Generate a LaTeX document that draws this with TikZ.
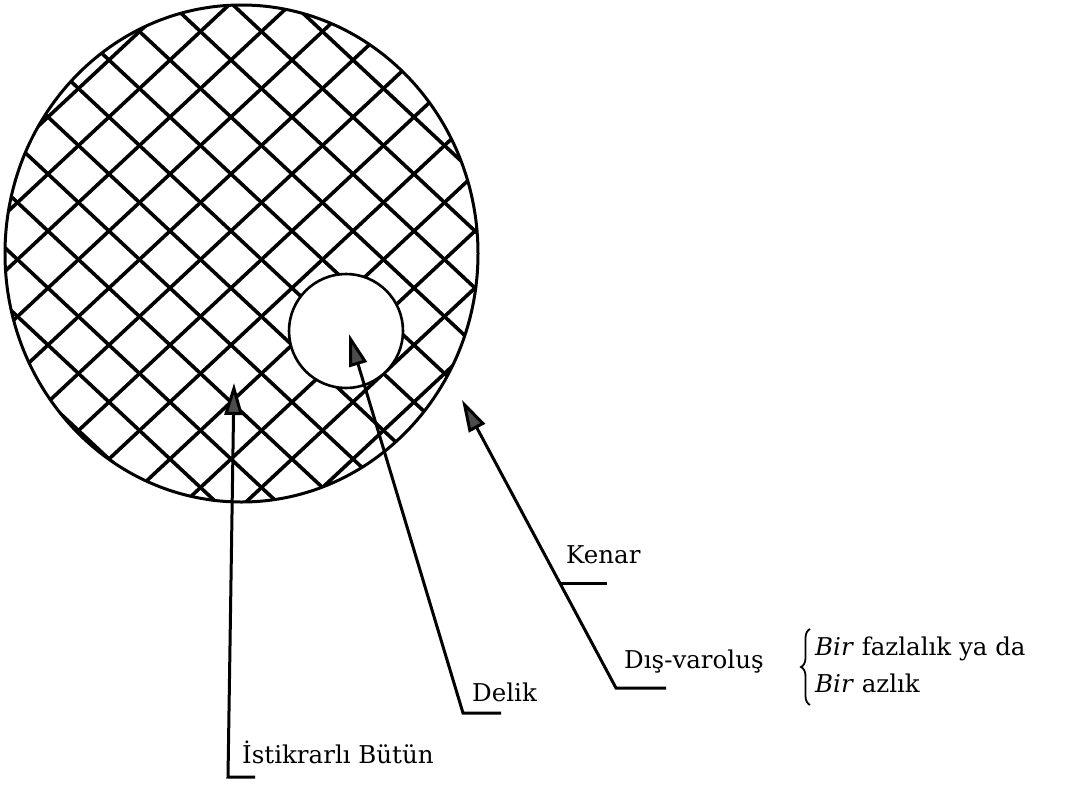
\documentclass[tikz,border=0pt]{standalone}
\usepackage{fontspec}
\setmainfont{DejaVu Serif}
\usetikzlibrary{arrows.meta,decorations.pathreplacing}
\begin{document}
\begin{tikzpicture}[x=1pt,y=-1pt,
  gridline/.style={line width=3.6pt},
  leader/.style={line width=3pt},
  arrowlead/.style={leader,-{Triangle[length=32pt,width=18pt,fill=black!70]}},
  lbl/.style={anchor=base west,inner sep=0pt,font=\fontsize{24.5}{29}\selectfont}]
\useasboundingbox (0,0) rectangle (1088,790);
% outer disc with grid
\coordinate (oc) at (241.5,253.5);
\begin{scope}
  \clip (oc) ellipse [x radius=236.5pt, y radius=248.5pt];
  \foreach \k in {-12,...,12}{
    \draw[gridline] ({231+61*\k-610},{402-570}) -- ({231+61*\k+610},{402+570});
    \draw[gridline] ({231+61*\k-610},{402+570}) -- ({231+61*\k+610},{402-570});
  }
\end{scope}
\draw[line width=3pt] (oc) ellipse [x radius=236.5pt, y radius=248.5pt];
% hole
\coordinate (hc) at (346,331);
\draw[line width=2.6pt, fill=white] (hc) circle [radius=57pt];
% labels
\node[lbl] (kenar) at (566,563) {Kenar};
\node[lbl] (dis) at (624,668) {Dış-varoluş};
\node[lbl] (delik) at (472,701) {Delik};
\node[lbl] (ist) at (242,763) {İstikrarlı Bütün};
\node[lbl] (bir1) at (815,655) {\textit{Bir} fazlalık ya da};
\node[lbl] (bir2) at (815,692) {\textit{Bir} azlık};
% leader coordinates
\coordinate (istTip) at (234,383);
\coordinate (istBend) at (228,777);
\coordinate (istEnd) at (255,777);
\coordinate (delTip) at (349,334);
\coordinate (delBend) at (463,713);
\coordinate (delEnd) at (501,713);
\coordinate (disTip) at (462,400);
\coordinate (disBend) at (616,688);
\coordinate (disEnd) at (666,688);
\coordinate (kenA) at (560,583);
\coordinate (kenB) at (607,583);
\draw[arrowlead] (istEnd) -- (istBend) -- (istTip);
\draw[arrowlead] (delEnd) -- (delBend) -- (delTip);
\draw[arrowlead] (disEnd) -- (disBend) -- (disTip);
\draw[leader] (kenA) -- (kenB);
% brace
\coordinate (braceB) at (810,705);
\coordinate (braceT) at (810,629);
\draw[line width=1.8pt, decorate, decoration={brace, amplitude=9pt}] (braceB) -- (braceT);
\end{tikzpicture}
\end{document}
